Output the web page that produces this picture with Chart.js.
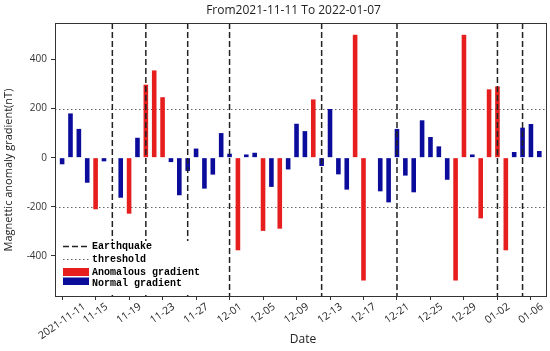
<!DOCTYPE html>
<html>
<head>
<meta charset="utf-8">
<script src="https://cdn.jsdelivr.net/npm/chart.js@4.4.0/dist/chart.umd.min.js"></script>
<style>
  html, body { margin: 0; padding: 0; background: #fff; }
</style>
</head>
<body>
<canvas id="chart" width="550" height="351"></canvas>
<script>
// daily gradient, day 0 = 2021-11-11 ... day 57 = 2022-01-07
const gradient = [
  -27, 180, 117, -102, -210, -15, 0, -163, -228, 81,
  297, 355, 246, -18, -153, -54, 37, -126, -69, 100,
  16, -377, 13, 20, -298, -119, -289, -48, 138, 108,
  237, -34, 198, -68, -130, 500, -500, 0, -137, -182,
  117, -73, -141, 152, 84, 46, -90, -500, 500, 13,
  -247, 278, 290, -377, 23, 122, 137, 27
];
const tickDays = [0, 4, 8, 12, 16, 20, 24, 28, 32, 36, 40, 44, 48, 52, 56];
const tickLabels = ['2021-11-11', '11-15', '11-19', '11-23', '11-27', '12-01', '12-05',
  '12-09', '12-13', '12-17', '12-21', '12-25', '12-29', '01-02', '01-06'];
const quakeDays = [6, 10, 15, 20, 31, 40, 52, 55];
const yTicks = [-400, -200, 0, 200, 400];
const threshold = 200;

const RED = '#e61e1e';
const BLUE = '#0c0c9c';
const SANS = '"Open Sans", "DejaVu Sans", sans-serif';

const points = gradient.map((v, i) => ({ x: i, y: v }));
const barColors = gradient.map(v => Math.abs(v) > threshold ? RED : BLUE);

const decor = {
  id: 'decor',
  beforeDatasetsDraw(chart) {
    const { ctx, chartArea: a, scales: { y } } = chart;
    ctx.save();
    ctx.strokeStyle = '#666';
    ctx.lineWidth = 1.2;
    ctx.setLineDash([1.5, 2.5]);
    [threshold, -threshold].forEach(t => {
      const py = Math.round(y.getPixelForValue(t)) + 0.5;
      ctx.beginPath();
      ctx.moveTo(a.left, py);
      ctx.lineTo(a.right, py);
      ctx.stroke();
    });
    ctx.restore();
  },
  afterDatasetsDraw(chart) {
    const { ctx, chartArea: a, scales: { x } } = chart;
    ctx.save();
    // earthquake lines
    ctx.strokeStyle = '#222';
    ctx.lineWidth = 1.5;
    ctx.setLineDash([6, 3]);
    quakeDays.forEach(d => {
      const px = x.getPixelForValue(d);
      ctx.beginPath();
      ctx.moveTo(px, a.top);
      ctx.lineTo(px, a.bottom);
      ctx.stroke();
    });
    ctx.setLineDash([]);

    // legend
    ctx.fillStyle = '#fff';
    ctx.fillRect(a.left + 1, 241, 152, a.bottom - 241 - 1);
    ctx.font = 'bold 10px "Liberation Mono", monospace';
    ctx.textBaseline = 'middle';
    ctx.textAlign = 'left';
    ctx.fillStyle = '#000';

    ctx.strokeStyle = '#222';
    ctx.lineWidth = 1.5;
    ctx.setLineDash([6, 3]);
    ctx.beginPath(); ctx.moveTo(63, 246.5); ctx.lineTo(89, 246.5); ctx.stroke();
    ctx.fillText('Earthquake', 92, 246.5);

    ctx.strokeStyle = '#666';
    ctx.lineWidth = 1.2;
    ctx.setLineDash([1.5, 2.5]);
    ctx.beginPath(); ctx.moveTo(63, 259.5); ctx.lineTo(89, 259.5); ctx.stroke();
    ctx.setLineDash([]);
    ctx.fillText('threshold', 92, 259.5);

    ctx.fillStyle = RED;
    ctx.fillRect(63, 268, 26, 8);
    ctx.fillStyle = BLUE;
    ctx.fillRect(63, 277.5, 26, 7.5);
    ctx.fillStyle = '#000';
    ctx.fillText('Anomalous gradient', 92, 272);
    ctx.fillText('Normal gradient', 92, 283);

    // frame
    ctx.strokeStyle = '#333';
    ctx.lineWidth = 1;
    ctx.strokeRect(Math.round(a.left) + 0.5, Math.round(a.top) + 0.5,
      Math.round(a.right - a.left), Math.round(a.bottom - a.top));
    ctx.restore();
  },
  afterDraw(chart) {
    const { ctx, scales: { x } } = chart;
    ctx.save();
    ctx.fillStyle = '#222';
    ctx.textAlign = 'center';
    ctx.textBaseline = 'middle';

    ctx.font = '12px ' + SANS;
    ctx.fillText('From2021-11-11 To 2022-01-07', 293.5, 10.5);
    ctx.fillText('Date', 303, 340);

    ctx.save();
    ctx.font = '11px ' + SANS;
    ctx.translate(9, 170);
    ctx.rotate(-Math.PI / 2);
    ctx.fillText('Magnettic anomaly gradient(nT)', 0, 0);
    ctx.restore();

    // rotated tick labels, centred under their ticks
    const th = 35 * Math.PI / 180;
    ctx.font = '10.5px ' + SANS;
    ctx.fillStyle = '#222';
    tickDays.forEach((d, i) => {
      const px = x.getPixelForValue(d);
      const L = ctx.measureText(tickLabels[i]).width;
      const bh = L * Math.sin(th) + 9 * Math.cos(th);
      ctx.save();
      ctx.translate(px, 302 + bh / 2);
      ctx.rotate(-th);
      ctx.fillText(tickLabels[i], 0, 0);
      ctx.restore();
    });
    ctx.restore();
  }
};

new Chart(document.getElementById('chart'), {
  type: 'bar',
  data: {
    datasets: [{
      data: points,
      backgroundColor: barColors,
      borderWidth: 0,
      barPercentage: 0.55,
      categoryPercentage: 1
    }]
  },
  options: {
    responsive: false,
    animation: false,
    devicePixelRatio: 1,
    layout: { padding: { top: 23, right: 4, left: 0, bottom: 0 } },
    plugins: {
      legend: { display: false },
      title: { display: false },
      tooltip: { enabled: false }
    },
    scales: {
      x: {
        type: 'linear',
        min: -0.85,
        max: 57.8,
        offset: false,
        grid: { drawOnChartArea: false, drawTicks: true, tickLength: 4, color: '#333', offset: false },
        border: { color: '#333' },
        ticks: { display: false },
        afterBuildTicks: s => { s.ticks = tickDays.map(v => ({ value: v })); },
        afterFit: s => { s.height = 55; }
      },
      y: {
        min: -563,
        max: 548,
        grid: { drawOnChartArea: false, drawTicks: true, tickLength: 4, color: '#333' },
        border: { color: '#333' },
        ticks: { font: { family: SANS, size: 10 }, color: '#333', padding: 4 },
        afterBuildTicks: s => { s.ticks = yTicks.map(v => ({ value: v })); },
        afterFit: s => { s.width = 55; }
      }
    }
  },
  plugins: [decor]
});
</script>
</body>
</html>
